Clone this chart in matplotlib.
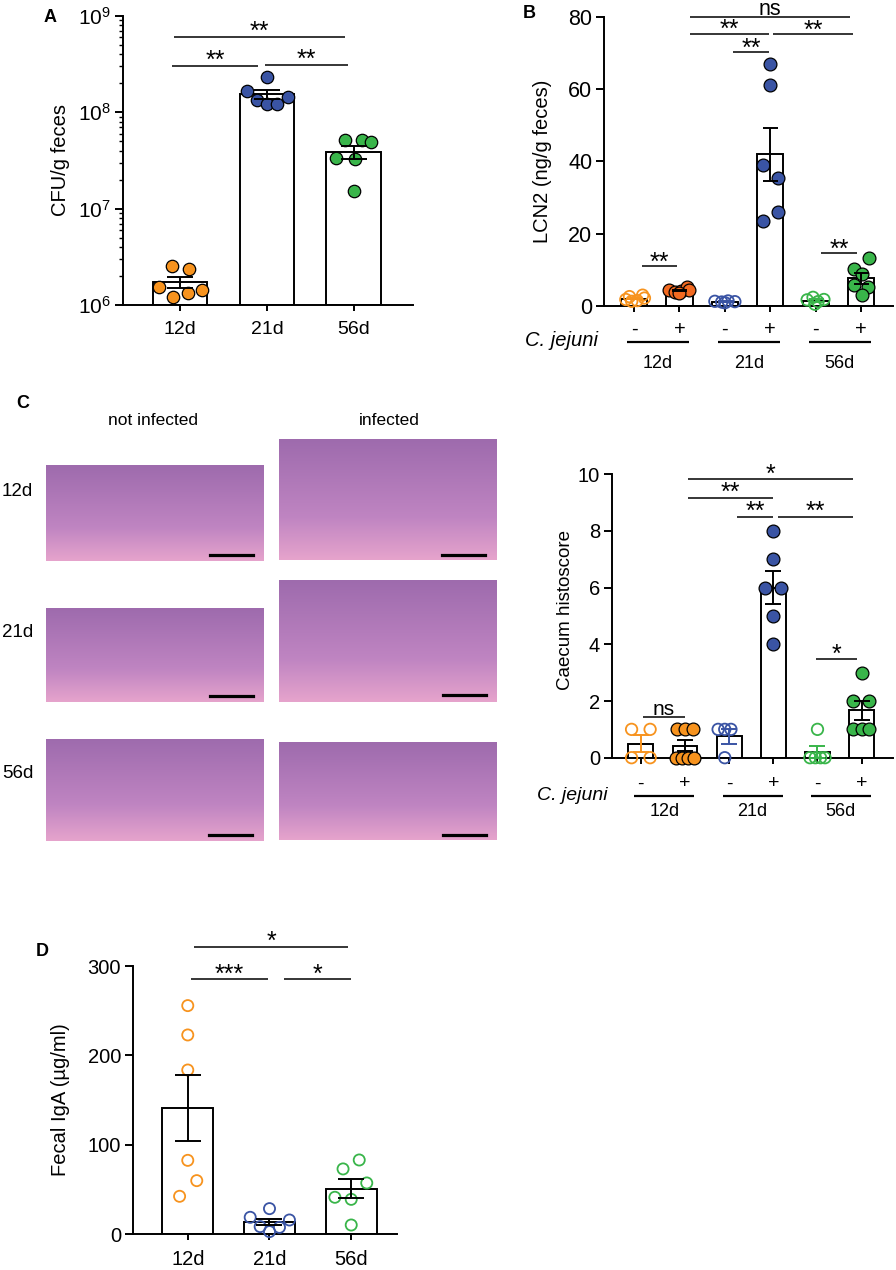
import numpy as np
import matplotlib
matplotlib.use('Agg')
import matplotlib.pyplot as plt
from matplotlib.transforms import blended_transform_factory

plt.rcParams['font.family'] = ['Liberation Sans', 'DejaVu Sans']
plt.rcParams['mathtext.default'] = 'regular'

# ------------------------------------------------------------------ data
days = ['12d', '21d', '56d']
signs = ['-', '+', '-', '+', '-', '+']

cfu_12d = [2.55e6, 2.34e6, 1.52e6, 1.43e6, 1.32e6, 1.20e6]
cfu_21d = [2.32e8, 1.65e8, 1.33e8, 1.22e8, 1.23e8, 1.46e8]
cfu_56d = [5.13e7, 5.21e7, 4.90e7, 3.37e7, 3.29e7, 1.52e7]

lcn2_12d_neg = [1.8, 1.3, 1.5, 3.0, 2.2, 2.6]
lcn2_12d_pos = [4.4, 3.8, 4.2, 5.2, 4.4, 3.6]
lcn2_21d_neg = [1.3, 1.1, 1.4, 1.2, 0.9]
lcn2_21d_pos = [66.8, 61.1, 39.1, 35.3, 26.1, 23.6]
lcn2_56d_neg = [1.7, 0.5, 1.2, 1.8, 2.4]
lcn2_56d_pos = [13.2, 10.3, 8.8, 5.7, 5.3, 3.0]

histo_12d_neg = [0, 0, 1, 1]
histo_12d_pos = [1, 1, 1, 0, 0, 0, 0]
histo_21d_neg = [1, 1, 1, 0]
histo_21d_pos = [8, 7, 6, 6, 5, 4]
histo_56d_neg = [1, 0, 0, 0, 0]
histo_56d_pos = [3, 2, 2, 1, 1, 1]

iga_12d = [255.7, 222.9, 183.7, 82.7, 60.0, 42.5]
iga_21d = [28.7, 19.0, 16.0, 8.6, 7.8, 3.0]
iga_56d = [83.1, 73.1, 57.4, 41.4, 39.1, 10.4]

# ------------------------------------------------------------------ layout / style
W, H = 896, 1270
fig = plt.figure(figsize=(W / 100, H / 100), dpi=100)

ORANGE = '#F7931E'
ORANGE_B = '#F26A21'
BLUE = '#3A54A4'
GREEN = '#39B54A'

# horizontal swarm offsets of the dots (layout only)
off_a = [[-0.096, 0.103, -0.241, 0.257, 0.088, -0.077],
         [0.0, -0.23, -0.115, 0.0, 0.115, 0.238],
         [-0.10, 0.096, 0.195, -0.20, 0.008, 0.0]]
off_b = [[-0.18, -0.05, 0.07, 0.19, 0.23, -0.10],
         [-0.22, -0.09, 0.04, 0.16, 0.20, -0.02],
         [-0.22, -0.07, 0.07, 0.22, 0.0],
         [0.0, 0.0, -0.16, 0.17, 0.17, -0.16],
         [-0.19, -0.02, 0.05, 0.18, -0.06],
         [0.18, -0.15, 0.01, -0.15, 0.16, 0.01]]
off_c = [[-0.21, 0.21, -0.21, 0.21],
         [-0.18, 0.0, 0.18, -0.2, -0.07, 0.07, 0.2],
         [-0.25, -0.1, 0.04, -0.1],
         [0.0, 0.0, -0.18, 0.17, 0.0, 0.0],
         [0.0, -0.17, -0.05, 0.07, 0.17],
         [0.0, -0.19, 0.16, -0.19, 0.0, 0.16]]
off_d = [[0.0, 0.0, 0.0, 0.0, 0.11, -0.10],
         [0.0, -0.236, 0.244, -0.114, 0.122, 0.0],
         [0.098, -0.10, 0.19, -0.20, 0.0, 0.0]]


def rect(x0, y0, x1, y1):
    return [x0 / W, 1 - y1 / H, (x1 - x0) / W, (y1 - y0) / H]


def ftext(x, y, s, **kw):
    fig.text(x / W, 1 - y / H, s, **kw)


def style_axes(ax, tick_fs):
    for sp in ['top', 'right']:
        ax.spines[sp].set_visible(False)
    for sp in ['left', 'bottom']:
        ax.spines[sp].set_linewidth(1.4)
    ax.tick_params(axis='both', which='major', direction='out', width=1.4,
                   length=5.5, labelsize=tick_fs, pad=3)
    ax.tick_params(axis='x', which='major', length=4.5)
    ax.patch.set_alpha(0)


def draw_groups(ax, groups, colors, filled, offsets, width, msize, capsize,
                bottom=0.0, ecolors=None):
    for i, vals in enumerate(groups):
        v = np.asarray(vals, dtype=float)
        m = v.mean()
        sem = v.std(ddof=1) / np.sqrt(len(v))
        ax.bar(i, m - bottom, width=width, bottom=bottom, facecolor='white',
               edgecolor='black', linewidth=1.4, zorder=1)
        xs = i + np.asarray(offsets[i])
        if filled[i]:
            ax.scatter(xs, v, s=msize, facecolor=colors[i], edgecolor='black',
                       linewidth=0.9, zorder=3, clip_on=False)
        else:
            ax.scatter(xs, v, s=msize * 0.8, facecolor='none', edgecolor=colors[i],
                       linewidth=1.3, zorder=3, clip_on=False)
        ec = 'black' if ecolors is None else ecolors[i]
        ax.errorbar(i, m, yerr=sem, fmt='none', ecolor=ec, elinewidth=1.4,
                    capsize=capsize, capthick=1.4, zorder=4, clip_on=False)


def sig(ax, x0, x1, y, text, fs=18, gap_px=3):
    ax.plot([x0, x1], [y, y], color='black', lw=1.1, clip_on=False,
            solid_capstyle='butt', zorder=5)
    if text.startswith('*'):
        dy = gap_px * 0.72 - 0.22 * fs
    else:
        dy = gap_px * 0.72
    ax.annotate(text, xy=((x0 + x1) / 2, y), xytext=(0, dy),
                textcoords='offset points', ha='center', va='baseline',
                fontsize=fs, annotation_clip=False)


# ------------------------------------------------------------------ panel A
axA = fig.add_axes(rect(123, 16, 413, 305))
style_axes(axA, 15)
axA.set_yscale('log')
axA.set_ylim(1e6, 1e9)
axA.set_xlim(-0.655, 2.68)
draw_groups(axA, [cfu_12d, cfu_21d, cfu_56d], [ORANGE, BLUE, GREEN],
            [True, True, True], off_a, 0.63, 80, 9.5, bottom=1e6)
axA.set_xticks(range(3))
axA.set_xticklabels(days, fontsize=14)
axA.tick_params(axis='x', pad=7)
axA.tick_params(axis='y', which='minor', length=3, width=1.0)
sig(axA, -0.07, 1.897, 6.05e8, '**', gap_px=4)
sig(axA, -0.092, 0.897, 3.03e8, '**', gap_px=4)
sig(axA, 0.977, 1.93, 3.1e8, '**', gap_px=4)
ftext(60, 160, 'CFU/g feces', rotation=90, ha='center', va='center', fontsize=14.5)
ftext(50, 18, 'A', ha='center', va='center', fontsize=13, fontweight='bold')

# ------------------------------------------------------------------ panel B
axB = fig.add_axes(rect(604, 16.7, 893, 306))
style_axes(axB, 15.5)
axB.set_ylim(0, 80)
axB.set_yticks([0, 20, 40, 60, 80])
axB.set_xlim(-0.66, 5.70)
b_groups = [lcn2_12d_neg, lcn2_12d_pos, lcn2_21d_neg, lcn2_21d_pos,
            lcn2_56d_neg, lcn2_56d_pos]
b_cols = [ORANGE, ORANGE_B, BLUE, BLUE, GREEN, GREEN]
b_fill = [False, True, False, True, False, True]
b_ecol = [ORANGE, 'black', BLUE, 'black', GREEN, 'black']
draw_groups(axB, b_groups, b_cols, b_fill, off_b, 0.58, 85, 5.4, ecolors=b_ecol)
axB.set_xticks(range(6))
axB.set_xticklabels([])
sig(axB, 1.233, 4.758, 80.0, 'ns', fs=15.5, gap_px=2)
sig(axB, 1.233, 2.97, 75.3, '**', gap_px=2)
sig(axB, 3.06, 4.82, 75.2, '**', gap_px=2)
sig(axB, 2.18, 2.97, 70.2, '**', gap_px=2)
sig(axB, 0.176, 0.947, 11.06, '**', gap_px=2)
sig(axB, 4.12, 4.91, 14.65, '**', gap_px=2)
ftext(543, 161, 'LCN2 (ng/g feces)', rotation=90, ha='center', va='center', fontsize=14.5)
ftext(529, 13, 'B', ha='center', va='center', fontsize=13, fontweight='bold')


def group_axis_labels(ax, y_sign, y_line, y_day, x_cj, y_cj, fs_sign, fs_day, fs_cj):
    tr = blended_transform_factory(ax.transData, fig.transFigure)
    for i, s in enumerate(signs):
        ax.text(i, 1 - y_sign / H, s, transform=tr, ha='center', va='center',
                fontsize=fs_sign, clip_on=False)
    for g in range(3):
        c = 2 * g + 0.53
        ax.plot([c - 0.68, c + 0.68], [1 - y_line / H] * 2, transform=tr,
                color='black', lw=1.6, clip_on=False, solid_capstyle='butt')
        ax.text(c, 1 - y_day / H, days[g], transform=tr, ha='center', va='center',
                fontsize=fs_day, clip_on=False)
    ftext(x_cj, y_cj, 'C. jejuni', ha='right', va='center', fontsize=fs_cj,
          style='italic')


group_axis_labels(axB, 329, 342, 363, 598, 340, 14.5, 13, 14.5)

# ------------------------------------------------------------------ panel C histology (illustrative)
ftext(23, 404, 'C', ha='center', va='center', fontsize=13, fontweight='bold')
ftext(153, 420, 'not infected', ha='center', va='center', fontsize=12.5)
ftext(389, 420, 'infected', ha='center', va='center', fontsize=12.5)
for lab, yy in zip(days, [492, 632, 773]):
    ftext(2, yy, lab, ha='left', va='center', fontsize=13.5)

tissue = [(45.7, 465, 262.7, 561), (279, 439, 496, 560),
          (45.7, 608, 262.7, 702), (279, 580, 496, 702),
          (45.7, 739, 262.7, 841), (279, 742, 496, 840)]
scalebars = [(210, 253, 555), (442, 485, 555), (210, 253, 696),
             (443, 486, 695), (209, 252, 835), (443, 486, 835)]
top_c = np.array([0.62, 0.42, 0.68])
mid_c = np.array([0.75, 0.52, 0.76])
bot_c = np.array([0.90, 0.64, 0.80])
tgrad = np.linspace(0, 1, 60)[:, None]
grad = np.where(tgrad < 0.65,
                top_c + (mid_c - top_c) * (tgrad / 0.65),
                mid_c + (bot_c - mid_c) * ((tgrad - 0.65) / 0.35))
img = np.repeat(grad[:, None, :], 4, axis=1)
for (x0, y0, x1, y1), (bx0, bx1, by) in zip(tissue, scalebars):
    axi = fig.add_axes(rect(x0, y0, x1, y1))
    axi.imshow(img, aspect='auto', interpolation='bilinear',
               extent=(0, 1, 0, 1))
    axi.set_axis_off()
    fig.add_artist(plt.Line2D([bx0 / W, bx1 / W], [1 - by / H, 1 - by / H],
                              color='black', lw=2.3, transform=fig.transFigure))

# ------------------------------------------------------------------ panel C histoscore
axC = fig.add_axes(rect(611.7, 474.3, 893, 757.7))
style_axes(axC, 14.5)
axC.set_ylim(0, 10)
axC.set_yticks([0, 2, 4, 6, 8, 10])
axC.set_xlim(-0.66, 5.71)
c_groups = [histo_12d_neg, histo_12d_pos, histo_21d_neg, histo_21d_pos,
            histo_56d_neg, histo_56d_pos]
c_cols = [ORANGE, ORANGE, BLUE, BLUE, GREEN, GREEN]
draw_groups(axC, c_groups, c_cols, b_fill, off_c, 0.56, 85, 5.6, ecolors=b_ecol)
axC.set_xticks(range(6))
axC.set_xticklabels([])
sig(axC, 1.065, 4.80, 9.83, '*', gap_px=3)
sig(axC, 1.065, 2.99, 9.17, '**', gap_px=3)
sig(axC, 2.175, 2.99, 8.50, '**', gap_px=3)
sig(axC, 3.10, 4.80, 8.50, '**', gap_px=3)
sig(axC, 3.96, 4.89, 3.48, '*', gap_px=3)
sig(axC, 0.045, 0.997, 1.44, 'ns', fs=15, gap_px=2)
ftext(565, 610, 'Caecum histoscore', rotation=90, ha='center', va='center', fontsize=13.5)
group_axis_labels(axC, 784, 796, 811, 608, 796, 14, 13, 14)

# ------------------------------------------------------------------ panel D
axD = fig.add_axes(rect(133, 966, 397, 1234.3))
style_axes(axD, 14.5)
axD.set_ylim(0, 300)
axD.set_yticks([0, 100, 200, 300])
axD.set_xlim(-0.67, 2.56)
draw_groups(axD, [iga_12d, iga_21d, iga_56d], [ORANGE, BLUE, GREEN],
            [False, False, False], off_d, 0.62, 80, 9.4)
axD.set_xticks(range(3))
axD.set_xticklabels(days, fontsize=14.5)
axD.tick_params(axis='x', pad=7)
sig(axD, 0.077, 1.962, 321.6, '*', gap_px=3)
sig(axD, 0.037, 0.987, 285.5, '***', gap_px=3)
sig(axD, 1.18, 1.995, 285.5, '*', gap_px=3)
ftext(60, 1100, 'Fecal IgA (µg/ml)', rotation=90, ha='center', va='center', fontsize=14.5)
ftext(42, 951, 'D', ha='center', va='center', fontsize=13, fontweight='bold')

fig.savefig('out.png', dpi=100)
